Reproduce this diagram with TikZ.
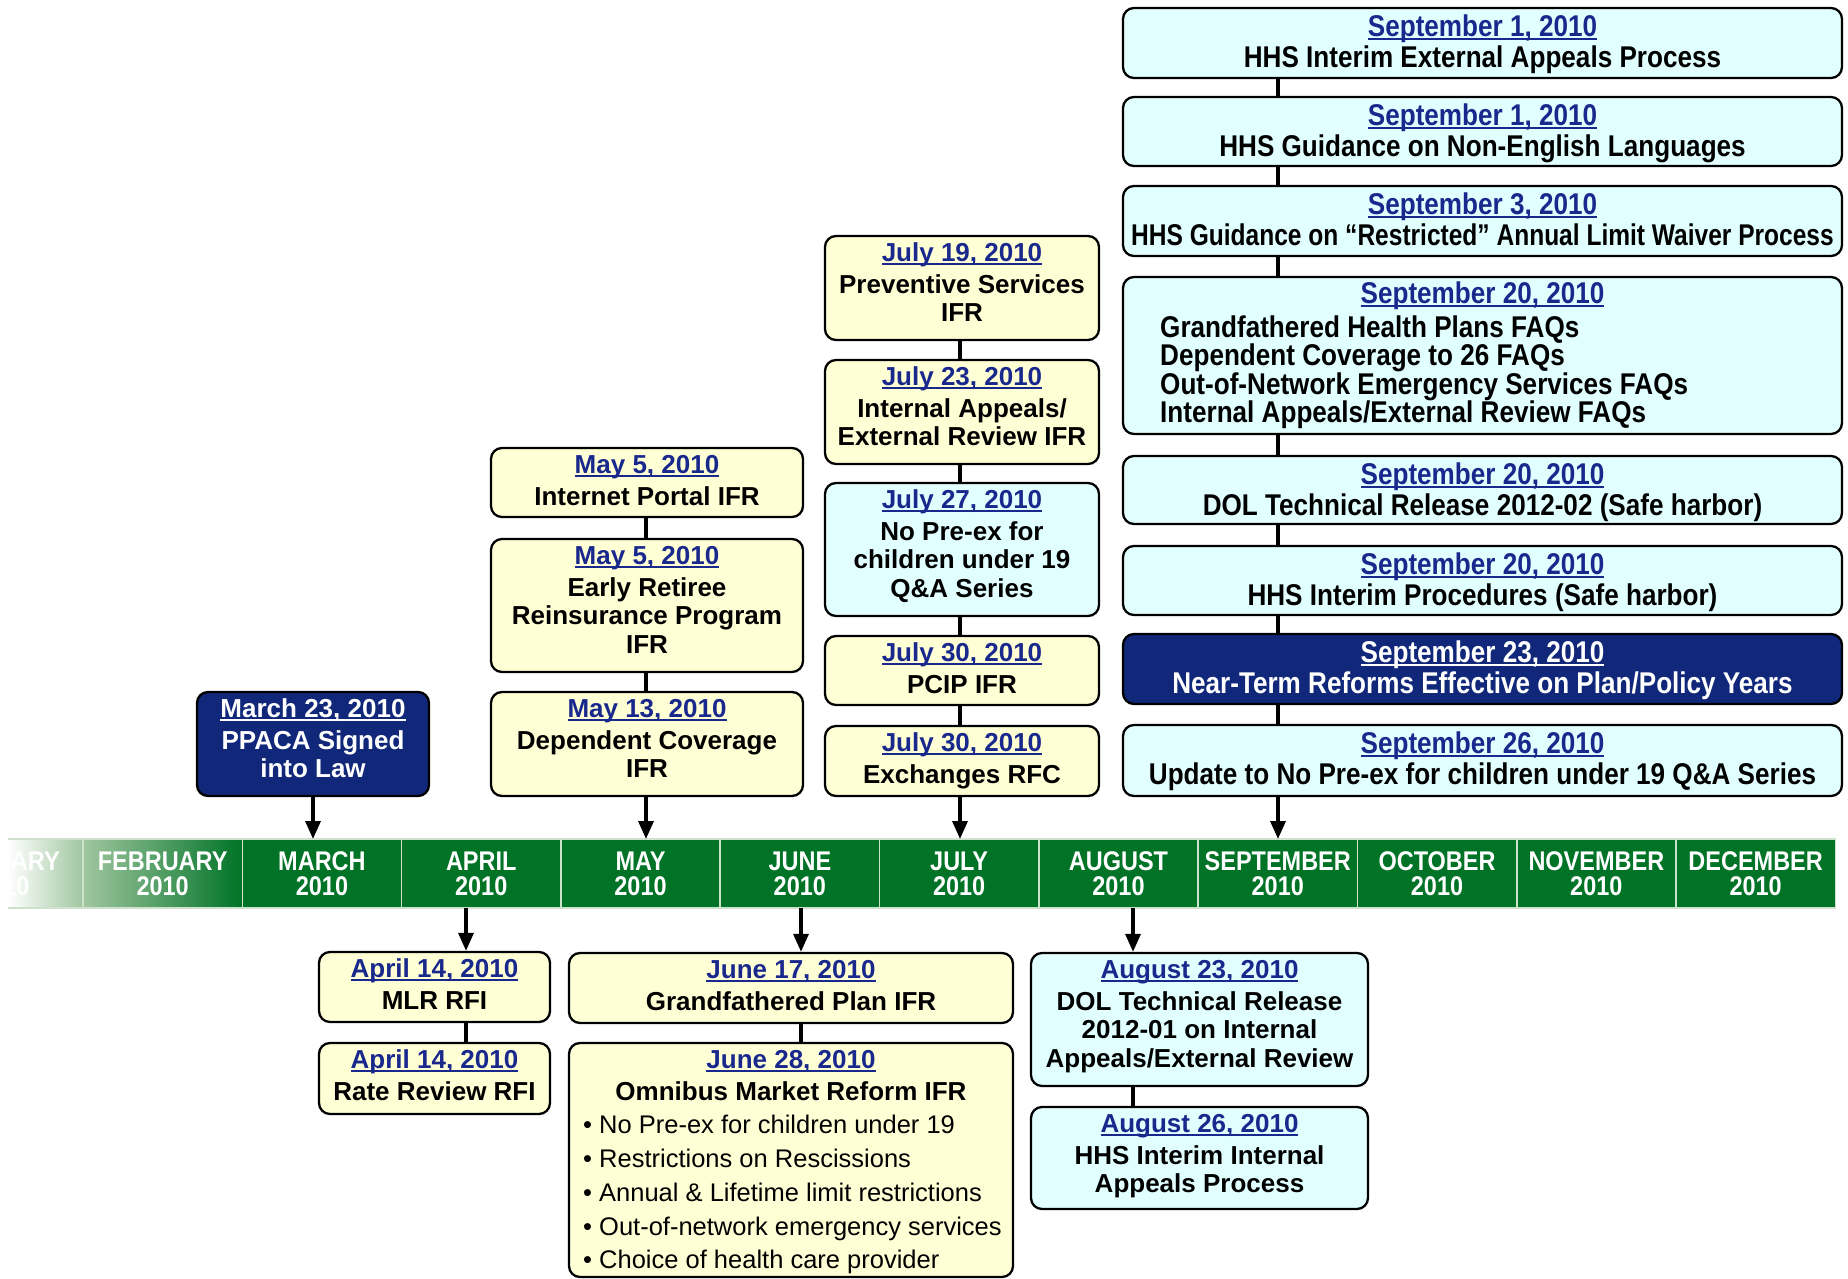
\documentclass[tikz,border=0pt]{standalone}
\usepackage{fontspec}
\usepackage{graphicx}
\setmainfont{Liberation Sans}
\newfontfamily\condfont[FakeStretch=0.87]{Liberation Sans}
\usetikzlibrary{arrows.meta}
\definecolor{ylw}{RGB}{255,255,214}
\definecolor{cyn}{RGB}{226,255,255}
\definecolor{navy}{RGB}{17,40,122}
\definecolor{dblue}{RGB}{25,40,140}
\definecolor{tgreen}{RGB}{0,115,38}
\definecolor{tfade}{RGB}{160,198,160}
\definecolor{tsep}{RGB}{205,225,205}
\newsavebox\ulbx
\newcommand\dul[1]{\sbox\ulbx{#1}\rlap{\rule[-3.6pt]{\wd\ulbx}{1.9pt}}\usebox\ulbx}
\newcommand\dt[1]{\textcolor{dblue}{\dul{#1}}}
\newcommand\tl[1]{\begin{tabular}[t]{@{}c@{}}#1\end{tabular}}
\tikzset{
 box/.style={draw=black, line width=2.3pt, rounded corners=11pt, inner sep=0pt},
 rfont/.style={font=\bfseries\fontsize{26}{28.5}\selectfont},
 cfont/.style={font=\condfont\bfseries\fontsize{30}{28}\selectfont},
 ybox/.style={box, fill=ylw},
 cbox/.style={box, fill=cyn},
 nbox/.style={box, fill=navy},
 rt/.style={inner sep=0pt, anchor=base, rfont, yshift=-26.3pt},
 ct/.style={inner sep=0pt, anchor=base, cfont, yshift=-29.3pt},
 link/.style={line width=3.3pt},
 arr/.style={line width=3.3pt, -{Triangle[length=18pt,width=15pt]}},
 month/.style={draw=tsep, line width=1.6pt, fill=tgreen, text=white, inner sep=0pt,
   minimum width=159.3pt, minimum height=69pt, align=center,
   font=\condfont\bfseries\fontsize{27}{25}\selectfont},
 mtext/.style={text=white, inner sep=0pt, align=center, font=\condfont\bfseries\fontsize{27}{25}\selectfont},
 txt/.style={inner sep=0pt, align=center},
 btxt/.style={inner sep=0pt, font=\fontsize{25.5}{30}\selectfont},
}
\begin{document}
\begin{tikzpicture}[x=1pt,y=-1pt]
\useasboundingbox (0,0) rectangle (1848,1279);
\fill[white] (0,0) rectangle (1848,1279);

% ---------- timeline ----------
\coordinate (bartop) at (0,839);
\coordinate (barbot) at (0,908);
\shade[left color=white, right color=tfade] (8,839) rectangle (83,908);
\draw[tsep, line width=1.6pt] (8,839) -- (83,839) -- (83,908) -- (8,908);
\node[mtext] (jan) at (3.35,873.5) {JANUARY\\2010};
\node[month, left color=tfade, right color=tgreen] (feb) at (162.65,873.5) {FEBRUARY\\2010};
\node[month] (mar) at (321.95,873.5) {MARCH\\2010};
\node[month] (apr) at (481.25,873.5) {APRIL\\2010};
\node[month] (may) at (640.55,873.5) {MAY\\2010};
\node[month] (jun) at (799.85,873.5) {JUNE\\2010};
\node[month] (jul) at (959.15,873.5) {JULY\\2010};
\node[month] (aug) at (1118.45,873.5) {AUGUST\\2010};
\node[month] (sep) at (1277.75,873.5) {SEPTEMBER\\2010};
\node[month] (oct) at (1437.05,873.5) {OCTOBER\\2010};
\node[month] (nov) at (1596.35,873.5) {NOVEMBER\\2010};
\node[month] (dec) at (1755.65,873.5) {DECEMBER\\2010};

% ---------- spines ----------
\coordinate (spMar) at (313,0);
\coordinate (spApr) at (466,0);
\coordinate (spMay) at (646,0);
\coordinate (spJun) at (801,0);
\coordinate (spJul) at (960,0);
\coordinate (spAug) at (1133,0);
\coordinate (spSep) at (1278,0);

% ---------- March ----------
\node[nbox, minimum width=232pt, minimum height=104pt] (mar23) at (313,744) {};
\node[rt, text=white] (mar23t) at (mar23.north) {\tl{\dul{March 23, 2010}\\[3.5pt]PPACA Signed\\into Law}};

% ---------- April ----------
\node[ybox, minimum width=231pt, minimum height=70pt] (apr14a) at (434.5,987) {};
\node[rt] (apr14at) at (apr14a.north) {\tl{\dt{April 14, 2010}\\[3.5pt]MLR RFI}};
\node[ybox, minimum width=231pt, minimum height=71pt] (apr14b) at (434.5,1078.5) {};
\node[rt] (apr14bt) at (apr14b.north) {\tl{\dt{April 14, 2010}\\[3.5pt]Rate Review RFI}};

% ---------- May ----------
\node[ybox, minimum width=312pt, minimum height=69pt] (may5a) at (647,482.5) {};
\node[rt] (may5at) at (may5a.north) {\tl{\dt{May 5, 2010}\\[3.5pt]Internet Portal IFR}};
\node[ybox, minimum width=312pt, minimum height=133pt] (may5b) at (647,605.5) {};
\node[rt] (may5bt) at (may5b.north) {\tl{\dt{May 5, 2010}\\[3.5pt]Early Retiree\\Reinsurance Program\\IFR}};
\node[ybox, minimum width=312pt, minimum height=104pt] (may13) at (647,744) {};
\node[rt] (may13t) at (may13.north) {\tl{\dt{May 13, 2010}\\[3.5pt]Dependent Coverage\\IFR}};

% ---------- June ----------
\node[ybox, minimum width=444pt, minimum height=70pt] (jun17) at (791,988) {};
\node[rt] (jun17t) at (jun17.north) {\tl{\dt{June 17, 2010}\\[3.5pt]Grandfathered Plan IFR}};
\node[ybox, minimum width=444pt, minimum height=234pt] (jun28) at (791,1160) {};
\node[rt] (jun28t) at (jun28.north) {\tl{\dt{June 28, 2010}\\[3.5pt]Omnibus Market Reform IFR}};
\node[btxt, anchor=base west] (b1) at (583,1133) {• No Pre-ex for children under 19};
\node[btxt, anchor=base west] (b2) at (583,1167.5) {• Restrictions on Rescissions};
\node[btxt, anchor=base west] (b3) at (583,1201) {• Annual \& Lifetime limit restrictions};
\node[btxt, anchor=base west] (b4) at (583,1235) {• Out-of-network emergency services};
\node[btxt, anchor=base west] (b5) at (583,1268) {• Choice of health care provider};

% ---------- July ----------
\node[ybox, minimum width=274pt, minimum height=104pt] (jul19) at (962,288) {};
\node[rt] (jul19t) at (jul19.north) {\tl{\dt{July 19, 2010}\\[3.5pt]Preventive Services\\IFR}};
\node[ybox, minimum width=274pt, minimum height=104pt] (jul23) at (962,412) {};
\node[rt] (jul23t) at (jul23.north) {\tl{\dt{July 23, 2010}\\[3.5pt]Internal Appeals/\\External Review IFR}};
\node[cbox, minimum width=274pt, minimum height=133pt] (jul27) at (962,549.5) {};
\node[rt] (jul27t) at (jul27.north) {\tl{\dt{July 27, 2010}\\[3.5pt]No Pre-ex for\\children under 19\\Q\&A Series}};
\node[ybox, minimum width=274pt, minimum height=69pt] (jul30a) at (962,670.5) {};
\node[rt] (jul30at) at (jul30a.north) {\tl{\dt{July 30, 2010}\\[3.5pt]PCIP IFR}};
\node[ybox, minimum width=274pt, minimum height=70pt] (jul30b) at (962,761) {};
\node[rt] (jul30bt) at (jul30b.north) {\tl{\dt{July 30, 2010}\\[3.5pt]Exchanges RFC}};

% ---------- August ----------
\node[cbox, minimum width=337pt, minimum height=133pt] (aug23) at (1199.5,1019.5) {};
\node[rt] (aug23t) at (aug23.north) {\tl{\dt{August 23, 2010}\\[3.5pt]DOL Technical Release\\2012-01 on Internal\\Appeals/External Review}};
\node[cbox, minimum width=337pt, minimum height=102pt] (aug26) at (1199.5,1158) {};
\node[rt] (aug26t) at (aug26.north) {\tl{\dt{August 26, 2010}\\[3.5pt]HHS Interim Internal\\Appeals Process}};

% ---------- September ----------
\node[cbox, minimum width=719pt, minimum height=70pt] (sep1a) at (1482.5,43) {};
\node[ct] (sep1at) at (sep1a.north) {\tl{\dt{September 1, 2010}\\[1.5pt]HHS Interim External Appeals Process}};
\node[cbox, minimum width=719pt, minimum height=69pt] (sep1b) at (1482.5,131.5) {};
\node[ct] (sep1bt) at (sep1b.north) {\tl{\dt{September 1, 2010}\\[1.5pt]HHS Guidance on Non-English Languages}};
\node[cbox, minimum width=719pt, minimum height=70pt] (sep3) at (1482.5,221) {};
\node[ct] (sep3t) at (sep3.north) {\tl{\dt{September 3, 2010}\\[1.5pt]\scalebox{0.94}[1]{HHS Guidance on “Restricted” Annual Limit Waiver Process}}};
\node[cbox, minimum width=719pt, minimum height=157pt] (sep20a) at (1482.5,355.5) {};
\node[ct, yshift=1.5pt] (sep20ad) at (sep20a.north) {\dt{September 20, 2010}};
\node[txt, cfont, anchor=base west] (f1) at (1160,337) {Grandfathered Health Plans FAQs};
\node[txt, cfont, anchor=base west] (f2) at (1160,365.5) {Dependent Coverage to 26 FAQs};
\node[txt, cfont, anchor=base west] (f3) at (1160,394) {Out-of-Network Emergency Services FAQs};
\node[txt, cfont, anchor=base west] (f4) at (1160,422) {Internal Appeals/External Review FAQs};
\node[cbox, minimum width=719pt, minimum height=68pt] (sep20b) at (1482.5,490) {};
\node[ct] (sep20bt) at (sep20b.north) {\tl{\dt{September 20, 2010}\\[1.5pt]DOL Technical Release 2012-02 (Safe harbor)}};
\node[cbox, minimum width=719pt, minimum height=69pt] (sep20c) at (1482.5,580.5) {};
\node[ct] (sep20ct) at (sep20c.north) {\tl{\dt{September 20, 2010}\\[1.5pt]HHS Interim Procedures (Safe harbor)}};
\node[nbox, minimum width=719pt, minimum height=70pt] (sep23) at (1482.5,669) {};
\node[ct, text=white] (sep23t) at (sep23.north) {\tl{\dul{September 23, 2010}\\[1.5pt]Near-Term Reforms Effective on Plan/Policy Years}};
\node[cbox, minimum width=719pt, minimum height=71pt] (sep26) at (1482.5,760.5) {};
\node[ct] (sep26t) at (sep26.north) {\tl{\dt{September 26, 2010}\\[1.5pt]Update to No Pre-ex for children under 19 Q\&A Series}};

% ---------- connectors ----------
\draw[arr] (mar23.south -| spMar) -- (bartop -| spMar);

\draw[arr] (barbot -| spApr) -- (apr14a.north -| spApr);
\draw[link] (apr14a.south -| spApr) -- (apr14b.north -| spApr);

\draw[link] (may5a.south -| spMay) -- (may5b.north -| spMay);
\draw[link] (may5b.south -| spMay) -- (may13.north -| spMay);
\draw[arr] (may13.south -| spMay) -- (bartop -| spMay);

\draw[arr] (barbot -| spJun) -- (jun17.north -| spJun);
\draw[link] (jun17.south -| spJun) -- (jun28.north -| spJun);

\draw[link] (jul19.south -| spJul) -- (jul23.north -| spJul);
\draw[link] (jul23.south -| spJul) -- (jul27.north -| spJul);
\draw[link] (jul27.south -| spJul) -- (jul30a.north -| spJul);
\draw[link] (jul30a.south -| spJul) -- (jul30b.north -| spJul);
\draw[arr] (jul30b.south -| spJul) -- (bartop -| spJul);

\draw[arr] (barbot -| spAug) -- (aug23.north -| spAug);
\draw[link] (aug23.south -| spAug) -- (aug26.north -| spAug);

\draw[link] (sep1a.south -| spSep) -- (sep1b.north -| spSep);
\draw[link] (sep1b.south -| spSep) -- (sep3.north -| spSep);
\draw[link] (sep3.south -| spSep) -- (sep20a.north -| spSep);
\draw[link] (sep20a.south -| spSep) -- (sep20b.north -| spSep);
\draw[link] (sep20b.south -| spSep) -- (sep20c.north -| spSep);
\draw[link] (sep20c.south -| spSep) -- (sep23.north -| spSep);
\draw[link] (sep23.south -| spSep) -- (sep26.north -| spSep);
\draw[arr] (sep26.south -| spSep) -- (bartop -| spSep);
\end{tikzpicture}
\end{document}
